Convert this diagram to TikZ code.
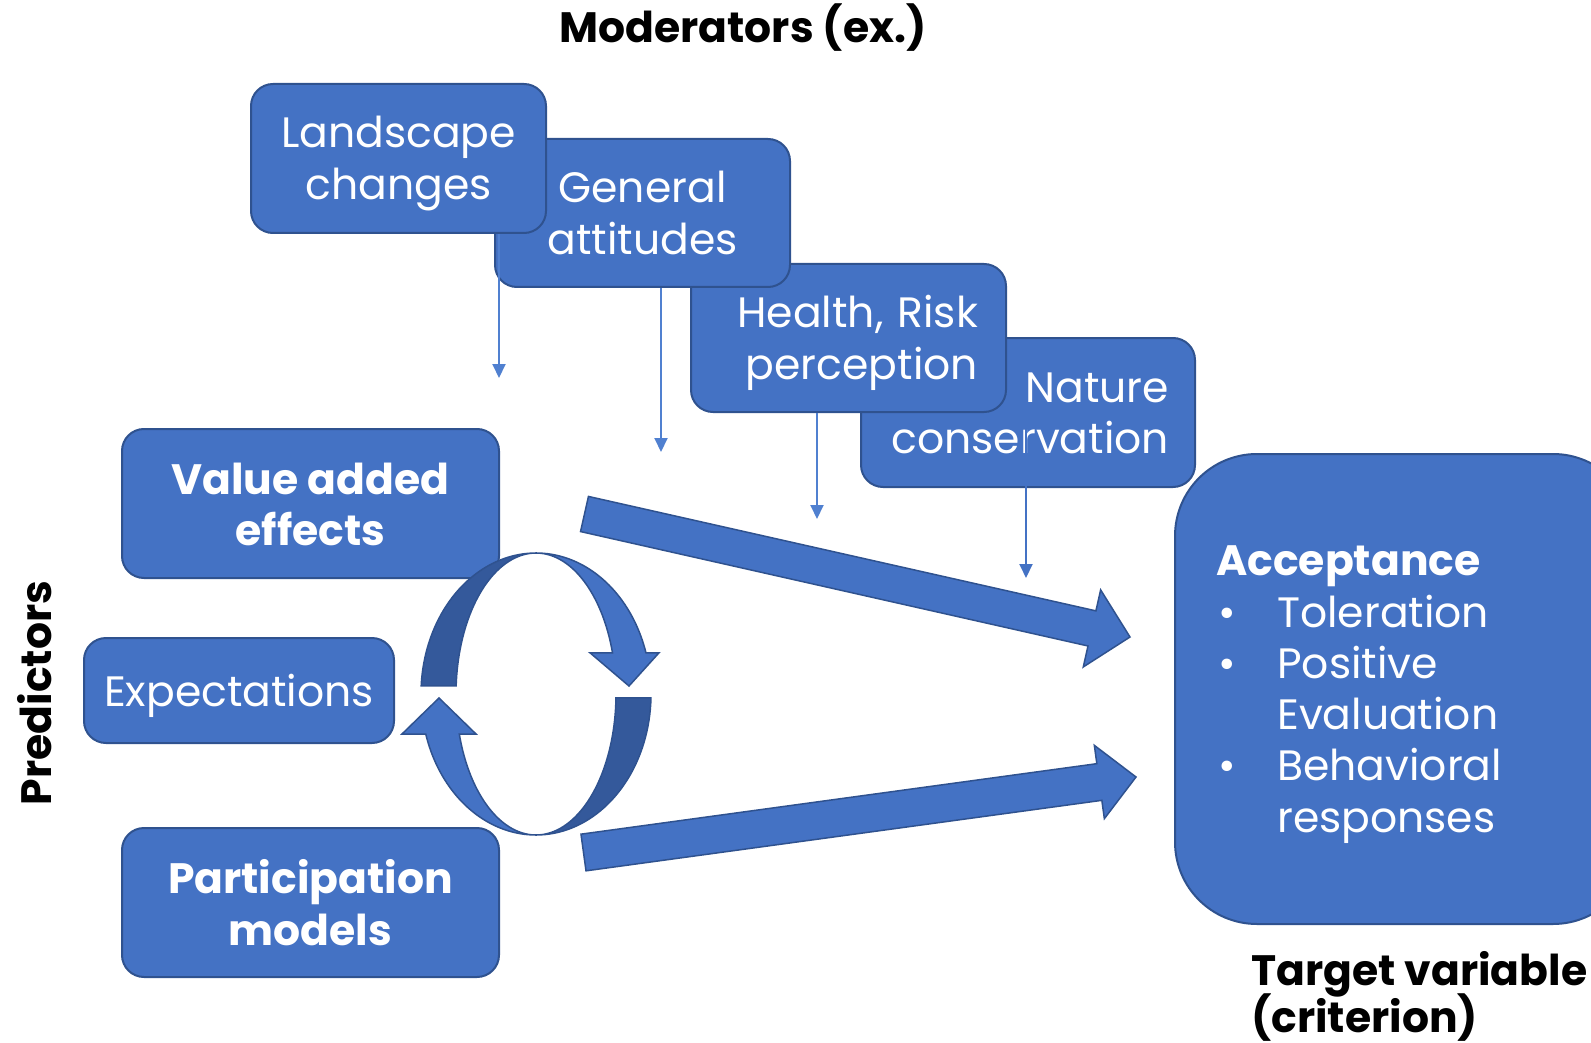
\documentclass[tikz,border=0pt]{standalone}
\usepackage{fontspec}
\setmainfont{Poppins}
\usetikzlibrary{calc,arrows.meta}
\definecolor{boxblue}{HTML}{4472C4}
\definecolor{boxedge}{HTML}{2F528F}
\definecolor{darkblue}{HTML}{34599B}
\definecolor{lineblue}{HTML}{5080D0}
\begin{document}
\begin{tikzpicture}[x=1pt,y=-1pt,
  txt/.style={font=\fontsize{42.5}{51.5}\selectfont},
  btxt/.style={font=\fontsize{42.5}{51.5}\selectfont\bfseries},
  box/.style={draw=boxedge, fill=boxblue, line width=2pt, rounded corners=22pt, inner sep=0pt},
  boxtext/.style={text=white, txt, inner sep=0pt, align=center},
  conn/.style={draw=lineblue, line width=2pt, -{Triangle[length=14pt,width=13pt]}},
  fat/.style={fill=boxblue, draw=boxedge, line width=1.5pt, line join=miter},
  ringdark/.style={fill=darkblue, draw=boxedge, line width=1.5pt},
  ringlight/.style={fill=boxblue, draw=boxedge, line width=1.5pt, line join=miter}]
\useasboundingbox (0,0) rectangle (1591,1043);

% target box
\node[box, rounded corners=82pt, minimum width=460pt, minimum height=470pt] (acc) at (1405,689) {};

% predictor boxes
\node[box, minimum width=377pt, minimum height=149pt] (val) at (310.5,503.5) {};
\node[boxtext, btxt] (valt) at ($(val.center)+(0,1)$) {Value added\\effects};
\node[box, minimum width=310pt, minimum height=105pt] (exp) at (239,690.5) {};
\node[boxtext] (expt) at ($(exp.center)+(0,5)$) {Expectations};
\node[box, minimum width=377pt, minimum height=149pt] (par) at (310.5,902.5) {};
\node[boxtext, btxt] (part) at ($(par.center)+(0,0)$) {Participation\\models};

% circular arrows
\path[ringdark] plot[domain=90:176.7,samples=40] ({536+115*cos(\x)},{694-141*sin(\x)})
  -- plot[domain=176.7:90,samples=40] ({536+80*cos(\x)},{694-141*sin(\x)}) -- cycle;
\path[ringdark] plot[domain=-1.6:-90,samples=40] ({536+115*cos(\x)},{694-141*sin(\x)})
  -- plot[domain=-90:-1.6,samples=40] ({536+80*cos(\x)},{694-141*sin(\x)}) -- cycle;
\path[ringlight] plot[domain=90:17,samples=40] ({536+115*cos(\x)},{694-141*sin(\x)})
  -- (659,652.8) -- (629,686) -- (590,652.8)
  -- plot[domain=17:90,samples=40] ({536+80*cos(\x)},{694-141*sin(\x)}) -- cycle;
\path[ringlight] plot[domain=270:196.5,samples=40] ({536+115*cos(\x)},{694-141*sin(\x)})
  -- (402,734) -- (439,698) -- (476,734)
  -- plot[domain=196.5:270,samples=40] ({536+80*cos(\x)},{694-141*sin(\x)}) -- cycle;

% big arrows
\coordinate (t1) at (584.5,514);
\coordinate (p1) at (1130,637);
\coordinate (b1) at ($(p1)!39pt!(t1)$);
\path[fat] ($(t1)!18pt!90:(p1)$) -- ($(b1)!18pt!90:(p1)$) -- ($(b1)!39.5pt!90:(p1)$) -- (p1)
  -- ($(b1)!39.5pt!-90:(p1)$) -- ($(b1)!18pt!-90:(p1)$) -- ($(t1)!18pt!-90:(p1)$) -- cycle;
\coordinate (t2) at (583.5,852.5);
\coordinate (p2) at (1136,777);
\coordinate (b2) at ($(p2)!37pt!(t2)$);
\path[fat] ($(t2)!18.5pt!90:(p2)$) -- ($(b2)!18.5pt!90:(p2)$) -- ($(b2)!37pt!90:(p2)$) -- (p2)
  -- ($(b2)!37pt!-90:(p2)$) -- ($(b2)!18.5pt!-90:(p2)$) -- ($(t2)!18.5pt!-90:(p2)$) -- cycle;

% moderator boxes (back to front)
\node[box, minimum width=334pt, minimum height=149pt] (nat) at (1028,412.5) {};
\node[boxtext, text width=282pt, align=right] (natt) at ($(nat.center)+(0,1)$) {Nature\\conservation};
\node[box, minimum width=315pt, minimum height=148pt] (hea) at (848.5,338) {};
\node[boxtext, text width=259pt, align=right] (heat) at ($(hea.center)+(0,5)$) {Health, Risk\\perception};
\node[box, minimum width=295pt, minimum height=148pt] (gen) at (642.5,213) {};
\node[boxtext] (gent) at ($(gen.center)+(0,0)$) {General\\attitudes};
\node[box, minimum width=295pt, minimum height=149pt] (lan) at (398.5,158.5) {};
\node[boxtext] (lant) at ($(lan.center)+(0,5)$) {Landscape\\changes};

% moderator connectors
\coordinate (e1) at (499,378);
\coordinate (e2) at (661,452);
\coordinate (e3) at (817,519);
\coordinate (e4) at (1026,578);
\draw[conn] (lan.south -| e1) -- (e1);
\draw[conn] (gen.south -| e2) -- (e2);
\draw[conn] (hea.south -| e3) -- (e3);
\draw[conn, draw=boxblue] (nat.center -| e4) -- (e4);

% acceptance text
\node[btxt, text=white, anchor=base west, inner sep=0pt] (acct) at (1216,575) {Acceptance};
\node[txt, text=white, anchor=base west, inner sep=0pt] (bu1) at (1218,627) {•};
\node[txt, text=white, anchor=base west, inner sep=0pt] (bu2) at (1218,678) {•};
\node[txt, text=white, anchor=base west, inner sep=0pt] (bu3) at (1218,780) {•};
\node[txt, text=white, anchor=base west, inner sep=0pt] (it1) at (1277,627) {Toleration};
\node[txt, text=white, anchor=base west, inner sep=0pt] (it2) at (1277,678) {Positive};
\node[txt, text=white, anchor=base west, inner sep=0pt] (it3) at (1277,729) {Evaluation};
\node[txt, text=white, anchor=base west, inner sep=0pt] (it4) at (1277,780) {Behavioral};
\node[txt, text=white, anchor=base west, inner sep=0pt] (it5) at (1277,832) {responses};

% labels
\node[btxt, anchor=base, inner sep=0pt] (title) at (743,43) {Moderators (ex.)};
\node[btxt, rotate=90, inner sep=0pt] (pred) at (35,693) {Predictors};
\node[btxt, anchor=base west, inner sep=0pt] (tg1) at (1251,985) {Target variable};
\node[btxt, anchor=base west, inner sep=0pt] (tg2) at (1251,1032) {(criterion)};
\end{tikzpicture}
\end{document}
